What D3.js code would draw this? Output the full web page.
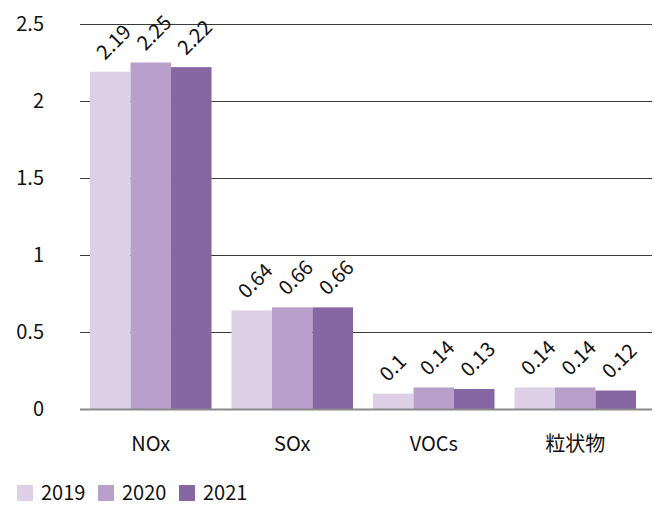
<!DOCTYPE html>
<html>
<head>
<meta charset="utf-8">
<script src="https://cdn.jsdelivr.net/npm/d3@7/dist/d3.min.js"></script>
<style>
  html, body { margin: 0; padding: 0; background: #fff; }
  svg { display: block; font-family: "Noto Sans CJK JP", "Noto Sans", sans-serif; }
</style>
</head>
<body>
<svg id="chart" width="654" height="508"></svg>
<script>
// Emissions by pollutant and year
const categories = ["NOx", "SOx", "VOCs", "粒状物"];
const years = ["2019", "2020", "2021"];
const values2019 = [2.19, 0.64, 0.1, 0.14];
const values2020 = [2.25, 0.66, 0.14, 0.14];
const values2021 = [2.22, 0.66, 0.13, 0.12];
const yTicks = [0, 0.5, 1, 1.5, 2, 2.5];
const colors = ["#dccfe6", "#b9a0cb", "#8667a4"];

const series = [values2019, values2020, values2021];

const svg = d3.select("#chart");
const fontSize = 20;

const x = d3.scaleBand()
  .domain(categories)
  .range([80, 646])
  .paddingInner(0.141)
  .paddingOuter(0.0705);

const xs = d3.scaleBand().domain(years).range([0, x.bandwidth()]);

const y = d3.scaleLinear().domain([0, 2.5]).range([409, 24]);

// Gridlines
svg.append("g")
  .selectAll("line")
  .data(yTicks.filter(t => t > 0))
  .join("line")
  .attr("x1", 80).attr("x2", 652)
  .attr("y1", d => Math.round(y(d)) + 0.5).attr("y2", d => Math.round(y(d)) + 0.5)
  .attr("stroke", "#3a3a3a").attr("stroke-width", 1);

// Tick labels
svg.append("g")
  .selectAll("text")
  .data(yTicks)
  .join("text")
  .attr("x", 44).attr("y", d => y(d))
  .attr("dy", "0.35em")
  .attr("text-anchor", "end")
  .attr("font-size", fontSize).attr("fill", "#111")
  .text(d => d);

// Bars
const groups = svg.append("g")
  .selectAll("g")
  .data(categories)
  .join("g")
  .attr("transform", d => `translate(${x(d)},0)`);

groups.selectAll("rect")
  .data((c, i) => years.map((yr, k) => ({ yr, k, v: series[k][i] })))
  .join("rect")
  .attr("x", d => xs(d.yr))
  .attr("width", xs.bandwidth())
  .attr("y", d => y(d.v))
  .attr("height", d => y(0) - y(d.v))
  .attr("fill", d => colors[d.k]);

// Value labels, rotated
groups.selectAll("text")
  .data((c, i) => years.map((yr, k) => ({ yr, k, v: series[k][i] })))
  .join("text")
  .attr("transform", d => `translate(${xs(d.yr) + 15},${y(d.v) - 11}) rotate(-45)`)
  .attr("font-size", fontSize).attr("fill", "#111")
  .text(d => d.v);

// Baseline
svg.append("line")
  .attr("x1", 80).attr("x2", 652)
  .attr("y1", y(0) + 0.5).attr("y2", y(0) + 0.5)
  .attr("stroke", "#8a8a8a").attr("stroke-width", 2);

// Category labels
svg.append("g")
  .selectAll("text")
  .data(categories)
  .join("text")
  .attr("x", d => x(d) + x.bandwidth() / 2)
  .attr("y", 444)
  .attr("dy", "0.35em")
  .attr("text-anchor", "middle")
  .attr("font-size", fontSize).attr("fill", "#111")
  .text(d => d);

// Legend
const legend = svg.append("g")
  .selectAll("g")
  .data(years)
  .join("g")
  .attr("transform", (d, i) => `translate(${17 + i * 81},485)`);

legend.append("rect")
  .attr("width", 16).attr("height", 16)
  .attr("fill", (d, i) => colors[i]);

legend.append("text")
  .attr("x", 24).attr("y", 8)
  .attr("dy", "0.35em")
  .attr("font-size", fontSize).attr("fill", "#111")
  .text(d => d);
</script>
</body>
</html>
